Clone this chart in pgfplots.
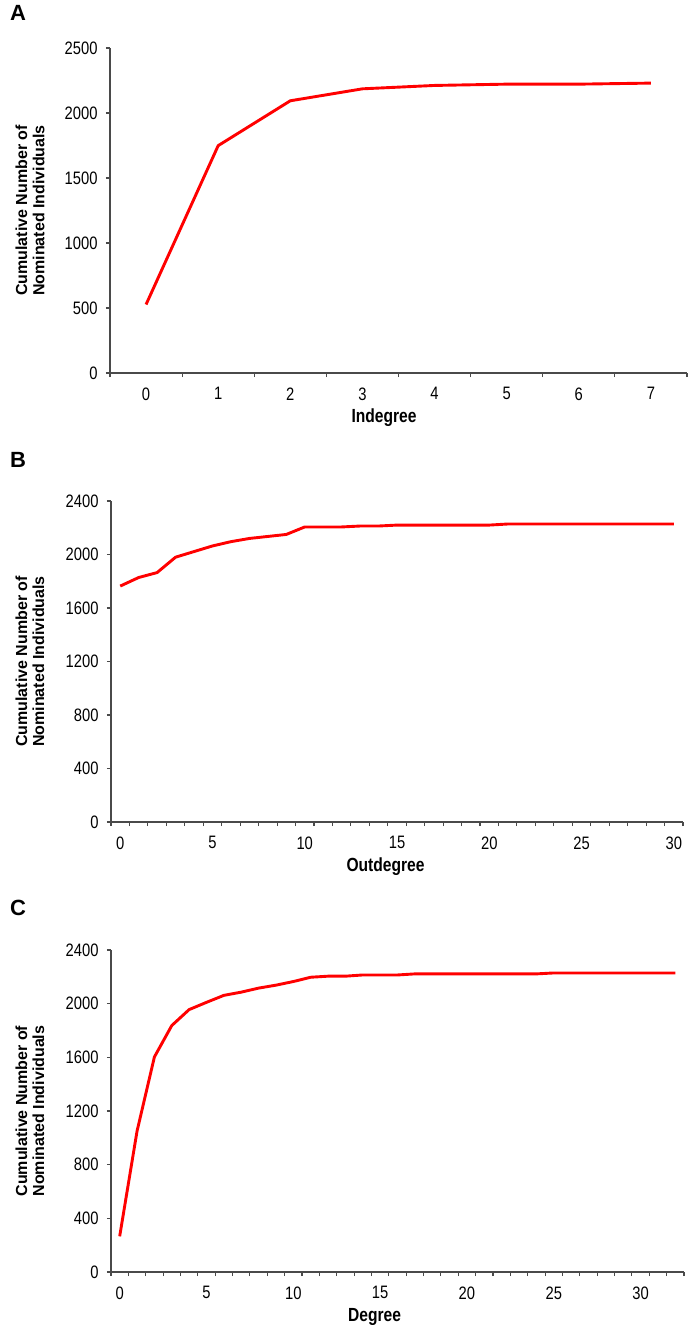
\documentclass[border=0pt]{standalone}
\usepackage{fontspec}
\setmainfont{Liberation Sans}
\newfontfamily\narrow[FakeStretch=0.82]{Liberation Sans}
\usepackage{pgfplots}
\pgfplotsset{compat=1.18}

\definecolor{axisgray}{HTML}{4A4A4A}
\definecolor{linered}{HTML}{FF0000}

\pgfplotsset{
  panel/.style={
    scale only axis,
    axis x line*=bottom, axis y line*=left,
    axis line style={axisgray, line width=1.3pt},
    tick style={axisgray, line width=1.1pt},
    tick align=outside,
    major tick length=4pt,
    ymin=0,
    xticklabels={},
    extra x tick style={major tick length=0pt},
    tick label style={font=\narrow\fontsize{18}{18}\selectfont},
    xticklabel style={yshift=-11pt},
    yticklabel style={xshift=-5pt},
    /pgf/number format/assume math mode=true,
    /pgf/number format/1000 sep={},
    xlabel style={font=\narrow\bfseries\fontsize{19}{19}\selectfont, anchor=center},
    ylabel style={font=\bfseries\fontsize{16}{17}\selectfont, align=center, anchor=center},
    clip=false,
  },
  curve/.style={linered, line width=2.9pt, no markers, line join=round},
}

\begin{document}
\begin{tikzpicture}
\useasboundingbox (0pt,0pt) rectangle (696pt,-1325pt);

\node[font=\bfseries\fontsize{22}{22}\selectfont] at (18pt,-13pt) {A};
\node[font=\bfseries\fontsize{22}{22}\selectfont] at (18pt,-460pt) {B};
\node[font=\bfseries\fontsize{22}{22}\selectfont] at (18pt,-908pt) {C};

% Panel A
\begin{axis}[panel, at={(110pt,-373pt)}, anchor=south west,
  width=577pt, height=325pt,
  xmin=-0.5, xmax=7.5, ymax=2500,
  ytick={0,500,...,2500},
  xtick={-0.5,0.5,1.5,2.5,3.5,4.5,5.5,6.5,7.5},
  extra x ticks={0,1,2,3,4,5,6,7},
  xlabel={Indegree},
  xlabel style={at={(axis description cs:0.475,0)}, yshift=-45pt},
  ylabel={Cumulative Number of\\Nominated Individuals},
  ylabel style={at={(axis description cs:-0.1386,0.5)}},
]
\addplot[curve] coordinates {
 (0,527) (1,1749) (2,2094) (3,2186) (4,2212) (5,2222) (6,2222) (7,2230)
};
\end{axis}

% Panel B
\begin{axis}[panel, at={(111pt,-822pt)}, anchor=south west,
  width=572pt, height=321pt,
  xmin=-0.5, xmax=30.5, ymax=2400,
  ytick={0,400,...,2400},
  xtick={-0.5,0.5,...,30.5},
  extra x ticks={0,5,10,15,20,25,30},
  xlabel={Outdegree},
  xlabel style={at={(axis description cs:0.48,0)}, yshift=-45pt},
  ylabel={Cumulative Number of\\Nominated Individuals},
  ylabel style={at={(axis description cs:-0.1416,0.5)}},
]
\addplot[curve] coordinates {
 (0,1764) (1,1828) (2,1865) (3,1980) (4,2022) (5,2064) (6,2096) (7,2120)
 (8,2135) (9,2150) (10,2206) (11,2206) (12,2206) (13,2213) (14,2213)
 (15,2220) (16,2220) (17,2220) (18,2220) (19,2220) (20,2220) (21,2228)
 (22,2228) (23,2228) (24,2228) (25,2228) (26,2228) (27,2228) (28,2228)
 (29,2228) (30,2228)
};
\end{axis}

% Panel C
\begin{axis}[panel, at={(111pt,-1272pt)}, anchor=south west,
  width=573pt, height=322pt,
  xmin=-0.5, xmax=32.5, ymax=2400,
  ytick={0,400,...,2400},
  xtick={-0.5,0.5,...,32.5},
  extra x ticks={0,5,10,15,20,25,30},
  xlabel={Degree},
  xlabel style={at={(axis description cs:0.46,0)}, yshift=-45pt},
  ylabel={Cumulative Number of\\Nominated Individuals},
  ylabel style={at={(axis description cs:-0.1416,0.5)}},
]
\addplot[curve] coordinates {
 (0,266) (1,1050) (2,1603) (3,1837) (4,1956) (5,2010) (6,2062) (7,2086)
 (8,2116) (9,2138) (10,2165) (11,2197) (12,2205) (13,2205) (14,2214)
 (15,2214) (16,2214) (17,2222) (18,2222) (19,2222) (20,2222) (21,2222)
 (22,2222) (23,2222) (24,2222) (25,2229) (26,2229) (27,2229) (28,2229)
 (29,2229) (30,2229) (31,2229) (32,2229)
};
\end{axis}
\end{tikzpicture}
\end{document}
